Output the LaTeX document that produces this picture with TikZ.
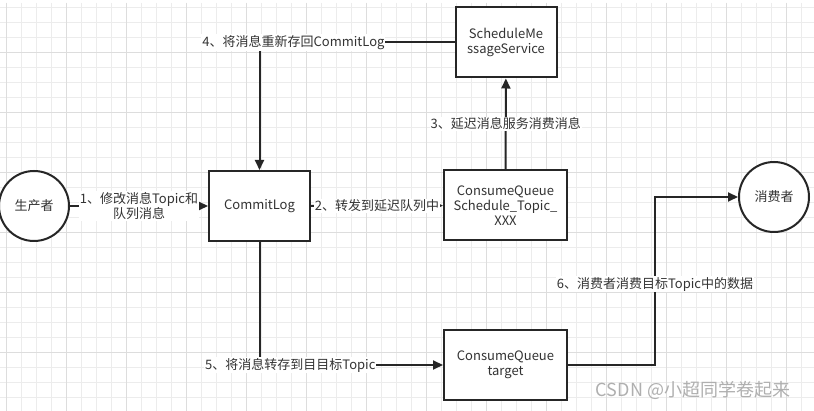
\documentclass[tikz,border=0pt]{standalone}
\usepackage{fontspec}
\setmainfont{Noto Sans CJK SC}
\usetikzlibrary{positioning,arrows.meta,calc}
\definecolor{linecolor}{RGB}{38,38,38}
\definecolor{textcolor}{RGB}{51,51,51}
\definecolor{gridminor}{RGB}{236,236,236}
\definecolor{gridmajor}{RGB}{221,221,221}
\definecolor{markcolor}{RGB}{175,175,175}

\begin{document}
\begin{tikzpicture}[x=1pt, y=-1pt,
		% Node styles
		box/.style={rectangle, draw=linecolor, line width=2pt, fill=white, minimum width=101pt,
			minimum height=70pt, align=center, text=textcolor, font=\fontsize{13}{15}\selectfont, inner sep=1pt},
		queue/.style={box, minimum width=123pt},
		role/.style={circle, draw=linecolor, line width=2pt, fill=white, minimum size=70pt,
			inner sep=0pt, text=textcolor, font=\fontsize{13}{15}\selectfont},
		% Arrow styles
		arrow/.style={-{Triangle[length=10pt,width=9pt]}, draw=linecolor, line width=2pt},
		% Text styles
		steplabel/.style={fill=white, text=textcolor, font=\fontsize{13}{15}\selectfont, inner sep=1pt, align=center},
		marklabel/.style={text=markcolor, font=\fontsize{18}{20}\selectfont}
		]
		
		% Background and grid
		\useasboundingbox[fill=white] (0,0) rectangle (814,411);
		\foreach \x in {6,21,...,801} \draw[gridminor, line width=1pt] (\x,3) -- (\x,411);
		\foreach \y in {8,23,...,398} \draw[gridminor, line width=1pt] (0,\y) -- (814,\y);
		\foreach \x in {6,66,...,786} \draw[gridmajor, line width=1pt] (\x,3) -- (\x,411);
		\foreach \y in {53,113,...,353} \draw[gridmajor, line width=1pt] (0,\y) -- (814,\y);
		
		% Roles
		\node[role] (producer) at (34,206) {生产者};
		\node[role] (consumer) at (774,197) {消费者};
		
		% Stores and queues
		\node[box] (commit) at (259.5,206) {CommitLog};
		\node[queue] (schedule) at (505.5,205.5) {ConsumeQueue\\Schedule\_Topic\_\\XXX};
		\node[box] (sms) at (506,42.5) {ScheduleMe\\ssageService};
		\node[queue] (target) at (505.5,365) {ConsumeQueue\\target};
		
		% Arrows - delay path
		\draw[arrow] (producer) -- (commit) node[steplabel, midway] {1、修改消息Topic和\\队列消息};
		\draw[arrow] (commit) -- (schedule) node[steplabel, midway] {2、转发到延迟队列中};
		\draw[arrow] (schedule) -- (sms) node[steplabel, midway] {3、延迟消息服务消费消息};
		\draw[arrow] (sms.west) -| (commit.north) node[steplabel, pos=0.413] {4、将消息重新存回CommitLog};
		
		% Arrows - target path
		\draw[arrow] (commit.south) |- (target.west) node[steplabel, pos=0.584] {5、将消息转存到目目标Topic};
		\draw[arrow] (target.east) -- ++(87,0) |- (consumer.west) node[steplabel, pos=0.241] {6、消费者消费目标Topic中的数据};
		
		% Watermark
		\node[marklabel] (mark) at (693,390) {CSDN @小超同学卷起来};
		
	\end{tikzpicture}
\end{document}
